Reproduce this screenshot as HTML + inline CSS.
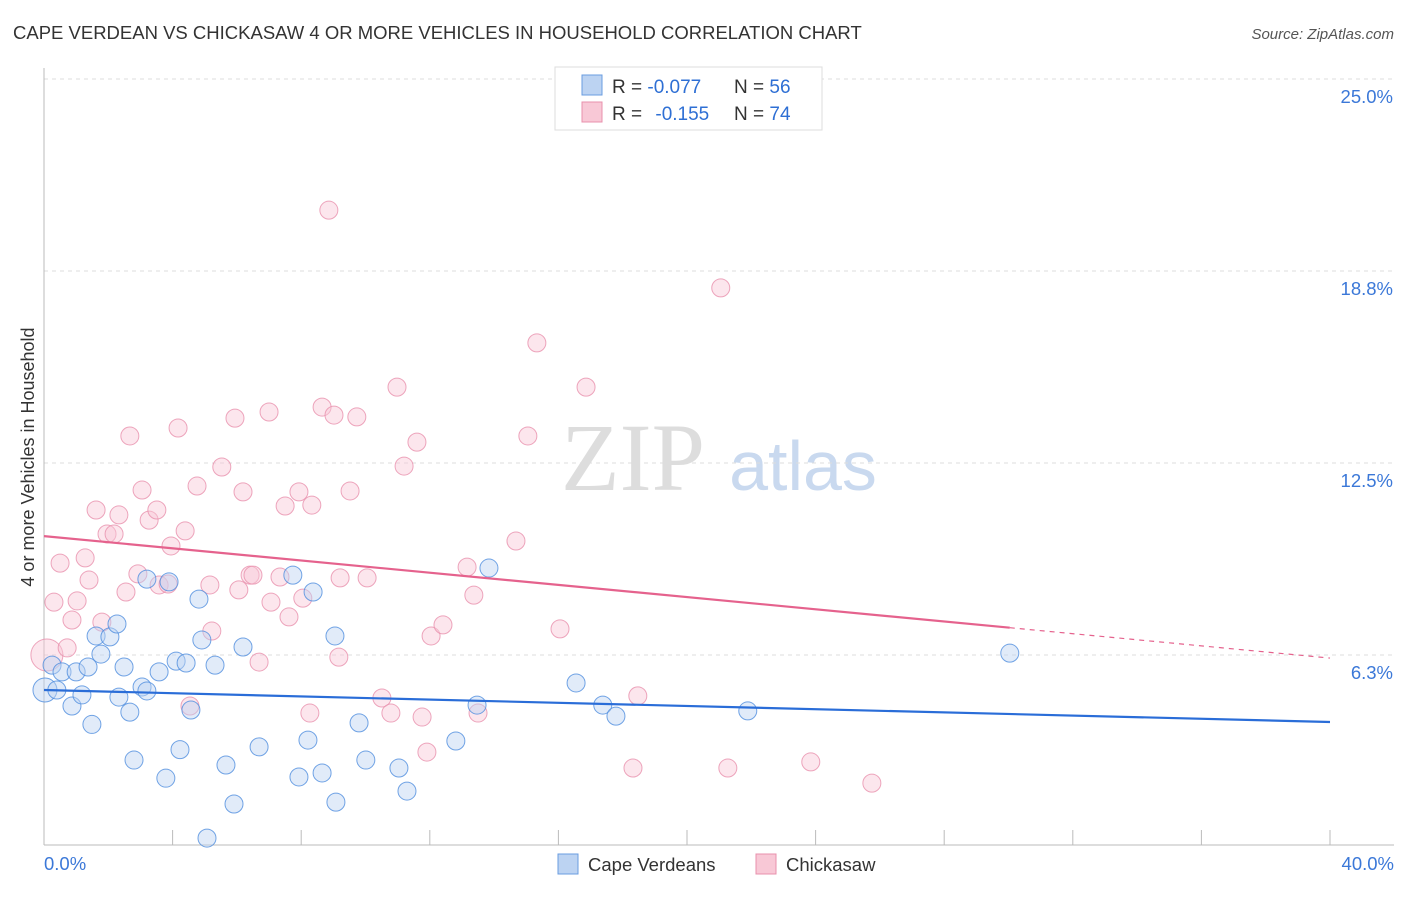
<!DOCTYPE html>
<html><head><meta charset="utf-8"><style>
body{margin:0;background:#fff;font-family:"Liberation Sans",sans-serif}
</style></head><body>
<svg id="c" width="1406" height="892" font-family="Liberation Sans, sans-serif">
<text x="13" y="39" font-size="18.5" fill="#333">CAPE VERDEAN VS CHICKASAW 4 OR MORE VEHICLES IN HOUSEHOLD CORRELATION CHART</text>
<text x="1394" y="39" font-size="15" fill="#555" text-anchor="end" font-style="italic">Source: ZipAtlas.com</text>
<text transform="translate(34,457) rotate(-90)" font-size="18" fill="#333" text-anchor="middle">4 or more Vehicles in Household</text>
<g><text x="633" y="490" font-size="96" style="font-family:'Liberation Serif',serif" fill="#ddd" text-anchor="middle">ZIP</text><text x="803" y="490" font-size="70" fill="#c9d9ef" text-anchor="middle">atlas</text></g>
<g id="grid"></g><g id="axes"></g><g id="marks"></g>
<g>
<rect x="555" y="67" width="267" height="63" fill="#fff" stroke="#ddd"/>
<rect x="582" y="75" width="20" height="20" fill="#bcd3f2" stroke="#6a9de0"/>
<rect x="582" y="102" width="20" height="20" fill="#f8c8d6" stroke="#e890ac"/>
<text x="612" y="93" font-size="19" fill="#333">R = <tspan fill="#2e6fd4">-0.077</tspan><tspan x="734">N = </tspan><tspan fill="#2e6fd4">56</tspan></text>
<text x="612" y="120" font-size="19" fill="#333">R = <tspan fill="#2e6fd4" dx="8">-0.155</tspan><tspan x="734">N = </tspan><tspan fill="#2e6fd4">74</tspan></text>
</g>
<g>
<rect x="558" y="854" width="20" height="20" fill="#bcd3f2" stroke="#6a9de0"/>
<text x="588" y="871" font-size="18.5" fill="#333">Cape Verdeans</text>
<rect x="756" y="854" width="20" height="20" fill="#f8c8d6" stroke="#e890ac"/>
<text x="786" y="871" font-size="18.5" fill="#333">Chickasaw</text>
</g>
</svg>
<script>
const blueX=[0.03,0.40,0.25,0.56,1.00,0.87,1.18,1.37,1.49,1.62,1.77,2.05,2.27,2.33,2.49,2.67,2.80,3.05,3.20,3.20,3.58,3.79,3.89,4.11,4.23,4.42,4.57,4.82,4.91,5.07,5.32,5.66,5.91,6.19,6.69,7.74,7.93,8.21,8.37,8.65,9.05,9.08,9.80,10.01,11.04,11.29,12.81,13.47,13.84,16.55,17.38,17.79,21.89,30.04];
const blueY=[5.11,5.11,5.92,5.70,5.70,4.59,4.95,5.86,3.99,6.87,6.28,6.84,7.26,4.88,5.86,4.39,2.83,5.21,8.72,5.08,5.70,2.24,8.63,6.05,3.17,5.99,4.46,8.07,6.74,0.29,5.92,2.67,1.40,6.51,3.26,8.85,2.28,3.48,8.30,2.41,6.87,1.46,4.04,2.83,2.57,1.82,3.45,4.62,9.08,5.34,4.62,4.26,4.43,6.31];
const pinkX=[0.09,0.31,0.50,0.72,0.87,1.03,1.28,1.40,1.62,1.80,1.96,2.18,2.33,2.55,2.67,2.92,3.05,3.27,3.51,3.58,3.86,3.95,4.17,4.39,4.54,4.76,5.16,5.22,5.53,5.94,6.06,6.19,6.41,6.50,6.69,7.00,7.06,7.34,7.50,7.62,7.93,8.05,8.27,8.33,8.65,8.86,9.02,9.17,9.21,9.52,9.73,10.05,10.51,10.79,10.98,11.20,11.60,11.76,11.91,12.04,12.41,13.16,13.37,13.50,14.68,15.05,15.33,16.05,16.86,18.32,18.47,21.05,21.27,23.85,25.75];
const pinkY=[6.25,7.97,9.24,6.48,7.39,8.01,9.41,8.69,10.97,7.32,10.19,10.19,10.81,8.30,13.38,8.89,11.62,10.64,10.97,8.53,8.56,9.80,13.64,10.29,4.59,11.75,8.53,7.03,12.37,13.96,8.37,11.56,8.85,8.85,6.02,14.16,7.97,8.79,11.10,7.49,11.56,8.10,4.36,11.13,14.32,20.73,14.06,6.18,8.76,11.59,14.00,8.76,4.85,4.36,14.97,12.40,13.18,4.23,3.09,6.87,7.23,9.11,8.20,4.36,9.96,13.38,16.41,7.10,14.97,2.57,4.92,18.20,2.57,2.77,2.08];
const blueTrend=[5.11,4.07];
const pinkTrend=[10.12,6.15];
const pinkSolidEnd=30.04;
const yTicks=[6.25,12.5,18.75,25];
const yTickLabels=["6.3%","12.5%","18.8%","25.0%"];
const NS="http://www.w3.org/2000/svg";
const sx=v=>44+v/40*1286, sy=v=>847-v/6.25*192;
function mk(t,a,p){const e=document.createElementNS(NS,t);for(const k in a)e.setAttribute(k,a[k]);p.appendChild(e);return e;}
const grid=document.getElementById('grid'),axes=document.getElementById('axes'),marks=document.getElementById('marks');
yTicks.forEach((t,i)=>{
 const l=mk('line',{x1:44,x2:1394,y1:sy(t),y2:sy(t),stroke:'#ddd','stroke-dasharray':'4,4'},grid);
 
 
 const tx=mk('text',{x:1393,y:sy(t)+24,'font-size':18.5,fill:'#3b78d8','text-anchor':'end'},axes);
 tx.textContent=yTickLabels[i];
 
 
});
let a=mk('line',{x1:44,x2:44,y1:68,y2:845,stroke:'#bbb'},axes);


a=mk('line',{x1:44,x2:1394,y1:845,y2:845,stroke:'#bbb'},axes);


for(let v=4;v<=40;v+=4){const t=mk('line',{x1:sx(v),x2:sx(v),y1:830,y2:845,stroke:'#bbb'},axes);
 
 }
[["0.0%",44,"start"],["40.0%",1394,"end"]].forEach(d=>{const t=mk('text',{x:d[1],y:870,'font-size':18.5,fill:'#3b78d8','text-anchor':d[2]},axes);t.textContent=d[0];
 
 });
function dots(X,Y,fill,stroke,name){X.forEach((x,i)=>{
 const r=(i===0)?(name==='pink-point'?16:12):9;
 const c=mk('circle',{cx:sx(x),cy:sy(Y[i]),r:r,fill:fill,'fill-opacity':0.45,stroke:stroke,'stroke-opacity':0.8,'stroke-width':1},marks);
 
 });}
dots(pinkX,pinkY,'#f8c8d6','#e890ac','pink-point');
dots(blueX,blueY,'#bcd3f2','#4f8ddf','blue-point');
const pAt=v=>pinkTrend[0]+(pinkTrend[1]-pinkTrend[0])*v/40;
let t=mk('line',{x1:sx(0),y1:sy(pinkTrend[0]),x2:sx(pinkSolidEnd),y2:sy(pAt(pinkSolidEnd)),stroke:'#e5628d','stroke-width':2.2},marks);


t=mk('line',{x1:sx(pinkSolidEnd),y1:sy(pAt(pinkSolidEnd)),x2:sx(40),y2:sy(pinkTrend[1]),stroke:'#e5628d','stroke-width':1.2,'stroke-dasharray':'5,5'},marks);


t=mk('line',{x1:sx(0),y1:sy(blueTrend[0]),x2:sx(40),y2:sy(blueTrend[1]),stroke:'#2a6dd8','stroke-width':2.2},marks);


</script>
</body></html>
